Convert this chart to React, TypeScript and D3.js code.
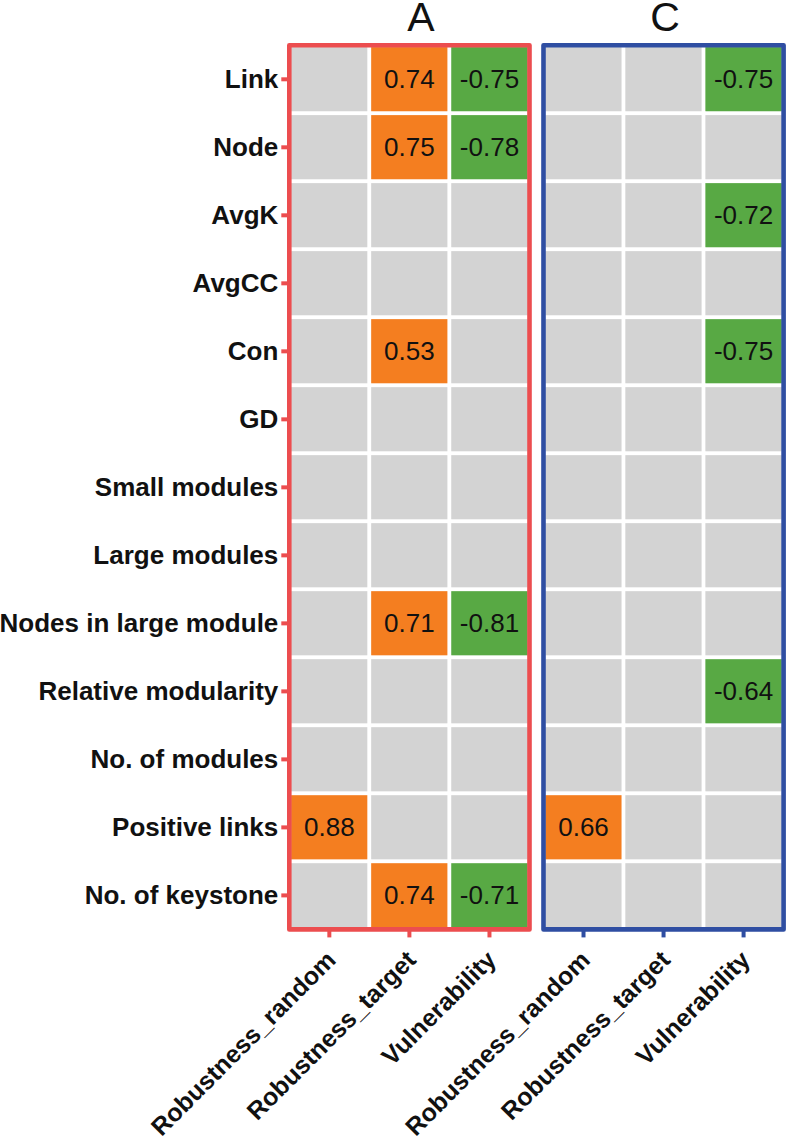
import React, { useRef, useEffect } from 'react';
import * as d3 from 'd3';

// Network properties (rows), top to bottom
const metrics = [
  'Link',
  'Node',
  'AvgK',
  'AvgCC',
  'Con',
  'GD',
  'Small modules',
  'Large modules',
  'Nodes in large module',
  'Relative modularity',
  'No. of modules',
  'Positive links',
  'No. of keystone',
];

// Stability indicators (columns)
const indicators = ['Robustness_random', 'Robustness_target', 'Vulnerability'];

// Significant correlations per row, null = not significant
const valuesA: (number | null)[][] = [
  [null, 0.74, -0.75],
  [null, 0.75, -0.78],
  [null, null, null],
  [null, null, null],
  [null, 0.53, null],
  [null, null, null],
  [null, null, null],
  [null, null, null],
  [null, 0.71, -0.81],
  [null, null, null],
  [null, null, null],
  [0.88, null, null],
  [null, 0.74, -0.71],
];

const valuesC: (number | null)[][] = [
  [null, null, -0.75],
  [null, null, null],
  [null, null, -0.72],
  [null, null, null],
  [null, null, -0.75],
  [null, null, null],
  [null, null, null],
  [null, null, null],
  [null, null, null],
  [null, null, -0.64],
  [null, null, null],
  [0.66, null, null],
  [null, null, null],
];

const FONT = '"Liberation Sans", Arial, Helvetica, sans-serif';

const App = () => {
  const chartRef = useRef<HTMLDivElement>(null);

  useEffect(() => {
    document.body.style.margin = '0';

    const width = 787;
    const height = 1148;

    d3.select(chartRef.current).select('svg').remove();

    const svg = d3.select(chartRef.current)
      .append('svg')
      .attr('width', width)
      .attr('height', height)
      .style('display', 'block')
      .style('font-family', FONT);

    const y = d3.scaleBand()
      .domain(metrics)
      .range([45.3, 929.4]);

    const fillFor = (v: number | null) =>
      v === null ? '#d3d3d3' : v > 0 ? '#f47e20' : '#58a944';

    const panels = [
      { title: 'A', values: valuesA, range: [289.3, 529.5], border: '#ec4d4f', titleX: 421, yAxis: true },
      { title: 'C', values: valuesC, range: [543.5, 783.6], border: '#2f4ea2', titleX: 665, yAxis: false },
    ];

    panels.forEach(p => {
      const x = d3.scaleBand()
        .domain(indicators)
        .range(p.range as [number, number]);

      const g = svg.append('g');

      const cells = metrics.flatMap((m, i) =>
        indicators.map((ind, j) => ({ metric: m, indicator: ind, value: p.values[i][j] }))
      );

      // tiles with white separators
      g.selectAll('.tile')
        .data(cells)
        .enter()
        .append('rect')
        .attr('class', 'tile')
        .attr('x', d => x(d.indicator)!)
        .attr('y', d => y(d.metric)!)
        .attr('width', x.bandwidth())
        .attr('height', y.bandwidth())
        .attr('fill', d => fillFor(d.value))
        .attr('stroke', 'white')
        .attr('stroke-width', 3.6);

      g.selectAll('.val')
        .data(cells.filter(d => d.value !== null))
        .enter()
        .append('text')
        .attr('class', 'val')
        .attr('x', d => x(d.indicator)! + x.bandwidth() / 2)
        .attr('y', d => y(d.metric)! + y.bandwidth() / 2)
        .attr('text-anchor', 'middle')
        .attr('dominant-baseline', 'central')
        .attr('font-size', 26)
        .attr('fill', '#111')
        .text(d => d.value!.toFixed(2));

      // panel border
      g.append('rect')
        .attr('x', p.range[0])
        .attr('y', y.range()[0])
        .attr('width', p.range[1] - p.range[0])
        .attr('height', y.range()[1] - y.range()[0])
        .attr('fill', 'none')
        .attr('stroke', p.border)
        .attr('stroke-width', 4.6)
        .attr('stroke-linejoin', 'round');

      // bottom ticks
      g.selectAll('.xtick')
        .data(indicators)
        .enter()
        .append('line')
        .attr('x1', d => x(d)! + x.bandwidth() / 2)
        .attr('x2', d => x(d)! + x.bandwidth() / 2)
        .attr('y1', y.range()[1])
        .attr('y2', y.range()[1] + 8)
        .attr('stroke', p.border)
        .attr('stroke-width', 4);

      // rotated indicator labels
      g.selectAll('.xlab')
        .data(indicators)
        .enter()
        .append('text')
        .attr('transform', d => `translate(${x(d)! + x.bandwidth() / 2 + 8},${y.range()[1] + 32}) rotate(-45)`)
        .attr('text-anchor', 'end')
        .attr('font-size', 25)
        .attr('font-weight', 'bold')
        .attr('fill', '#111')
        .text(d => d);

      if (p.yAxis) {
        g.selectAll('.ytick')
          .data(metrics)
          .enter()
          .append('line')
          .attr('x1', p.range[0] - 8)
          .attr('x2', p.range[0])
          .attr('y1', d => y(d)! + y.bandwidth() / 2)
          .attr('y2', d => y(d)! + y.bandwidth() / 2)
          .attr('stroke', p.border)
          .attr('stroke-width', 4);

        g.selectAll('.ylab')
          .data(metrics)
          .enter()
          .append('text')
          .attr('x', p.range[0] - 11)
          .attr('y', d => y(d)! + y.bandwidth() / 2)
          .attr('text-anchor', 'end')
          .attr('dominant-baseline', 'central')
          .attr('font-size', 26)
          .attr('font-weight', 'bold')
          .attr('fill', '#111')
          .text(d => d);
      }

      svg.append('text')
        .attr('x', p.titleX)
        .attr('y', 31)
        .attr('text-anchor', 'middle')
        .attr('font-size', 41)
        .attr('fill', '#111')
        .text(p.title);
    });
  }, []);

  return <div ref={chartRef}></div>;
};

export default App;
